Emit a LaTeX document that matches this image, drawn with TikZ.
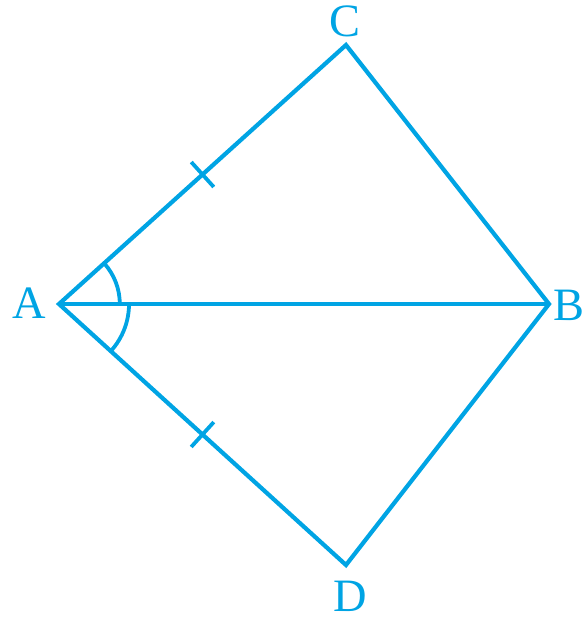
\documentclass[tikz,border=0pt]{standalone}
\usepackage{fontspec}
\setmainfont{Liberation Serif}
\usepackage{tikz}
\usetikzlibrary{calc,angles}
\definecolor{geoblue}{RGB}{0,164,228}

\begin{document}
\begin{tikzpicture}[x=0.025cm, y=-0.025cm]
        \tikzstyle{edge} = [draw=geoblue, line width=3pt, line join=miter]
        \tikzstyle{eqmark} = [draw=geoblue, line width=2.7pt]
        \tikzstyle{lbl} = [text=geoblue, font=\fontsize{33}{34}\selectfont, inner sep=0pt]
        \useasboundingbox (0,0) rectangle (587,621);
        \coordinate (A) at (59,304);
        \coordinate (B) at (549,304);
        \coordinate (C) at (346,45);
        \coordinate (D) at (346,565);
        \node (la) [lbl] at (29,303) {A};
        \node (lb) [lbl] at (569,305) {B};
        \node (lc) [lbl] at (345,21) {C};
        \node (ld) [lbl] at (350,596) {D};
        \draw[edge] (A)--(C)--(B)--(D)--cycle;
        \draw[edge] (A)--(B);
        % equal sides
        \coordinate (mac) at ($(A)!0.5!(C)$);
        \coordinate (mad) at ($(A)!0.5!(D)$);
        \draw[eqmark] ($(mac)!0.42cm!90:(C)$)--($(mac)!0.42cm!-90:(C)$);
        \draw[eqmark] ($(mad)!0.42cm!90:(D)$)--($(mad)!0.42cm!-90:(D)$);
        % equal angles
        \pic[eqmark, angle radius=1.52cm] {angle=B--A--C};
        \pic[eqmark, angle radius=1.75cm] {angle=D--A--B};
    \end{tikzpicture}
\end{document}
